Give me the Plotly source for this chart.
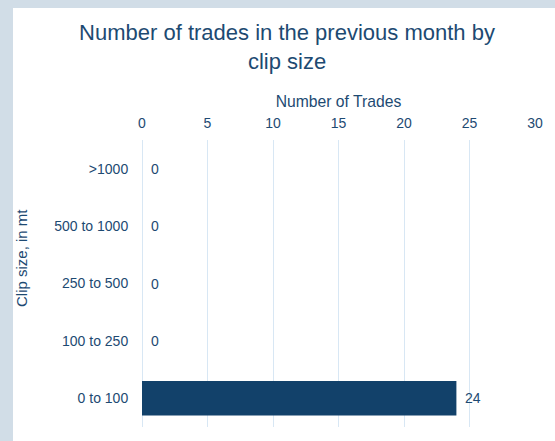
import plotly.graph_objects as go

categories = ["0 to 100", "100 to 250", "250 to 500", "500 to 1000", ">1000"]
trades = [24, 0, 0, 0, 0]
x_ticks = [0, 5, 10, 15, 20, 25, 30]

W, H = 555, 441
L, R, T, B = 142, 20, 140, 14
pw, ph = W - L - R, H - T - B

text_color = "#1d4a72"
bar_color = "#12416a"
grid_color = "#d8e7f4"
font_family = "Arial, Liberation Sans, sans-serif"

fig = go.Figure()
fig.add_trace(go.Bar(
    x=trades, y=categories, orientation="h",
    marker=dict(color=bar_color, line=dict(width=0)),
    hoverinfo="skip",
))

annotations = []
for c, v in zip(categories, trades):
    annotations.append(dict(
        x=v, y=c, xref="x", yref="y", text=str(v), showarrow=False,
        xanchor="left", yanchor="middle", xshift=7,
        font=dict(size=14, color=text_color, family=font_family),
    ))
# y-axis title
annotations.append(dict(
    x=(21 - L) / pw, y=(H - B - 258) / ph, xref="paper", yref="paper",
    text="Clip size, in mt", showarrow=False, textangle=-90,
    xanchor="center", yanchor="middle",
    font=dict(size=15, color=text_color, family=font_family),
))

shapes = [dict(
    type="rect", xref="paper", yref="paper", layer="below",
    x0=(13 - L) / pw, x1=(W + 10 - L) / pw,
    y0=(H - B - (H + 10)) / ph, y1=(H - B - 8) / ph,
    fillcolor="white", line=dict(width=0),
)]

fig.update_layout(
    width=W, height=H,
    margin=dict(l=L, r=R, t=T, b=B),
    paper_bgcolor="#d1dde7",
    plot_bgcolor="white",
    font=dict(family=font_family, color=text_color, size=14),
    title=dict(
        text="Number of trades in the previous month by<br>clip size",
        x=287 / W, xanchor="center", xref="container",
        y=1 - 40 / H, yanchor="top", yref="container",
        font=dict(size=22, color=text_color, family=font_family),
    ),
    bargap=0.4,
    showlegend=False,
    annotations=annotations,
    shapes=shapes,
    xaxis=dict(
        side="top", range=[0, 30], tickvals=x_ticks,
        showgrid=True, gridcolor=grid_color, gridwidth=1,
        zeroline=True, zerolinecolor=grid_color, zerolinewidth=1,
        showline=False,
        ticks="outside", ticklen=5, tickcolor="rgba(0,0,0,0)",
        tickfont=dict(size=14, color=text_color),
        title=dict(text="Number of Trades", standoff=3,
                   font=dict(size=15.7, color=text_color)),
        fixedrange=True,
    ),
    yaxis=dict(
        categoryorder="array", categoryarray=categories,
        showgrid=False, showline=False, zeroline=False,
        ticks="outside", ticklen=10, tickcolor="rgba(0,0,0,0)",
        tickfont=dict(size=14, color=text_color),
        fixedrange=True,
    ),
)

fig.write_html(
    "out.html",
    config={"displayModeBar": False},
    post_script="document.body.style.margin='0';document.body.style.padding='0';",
)
